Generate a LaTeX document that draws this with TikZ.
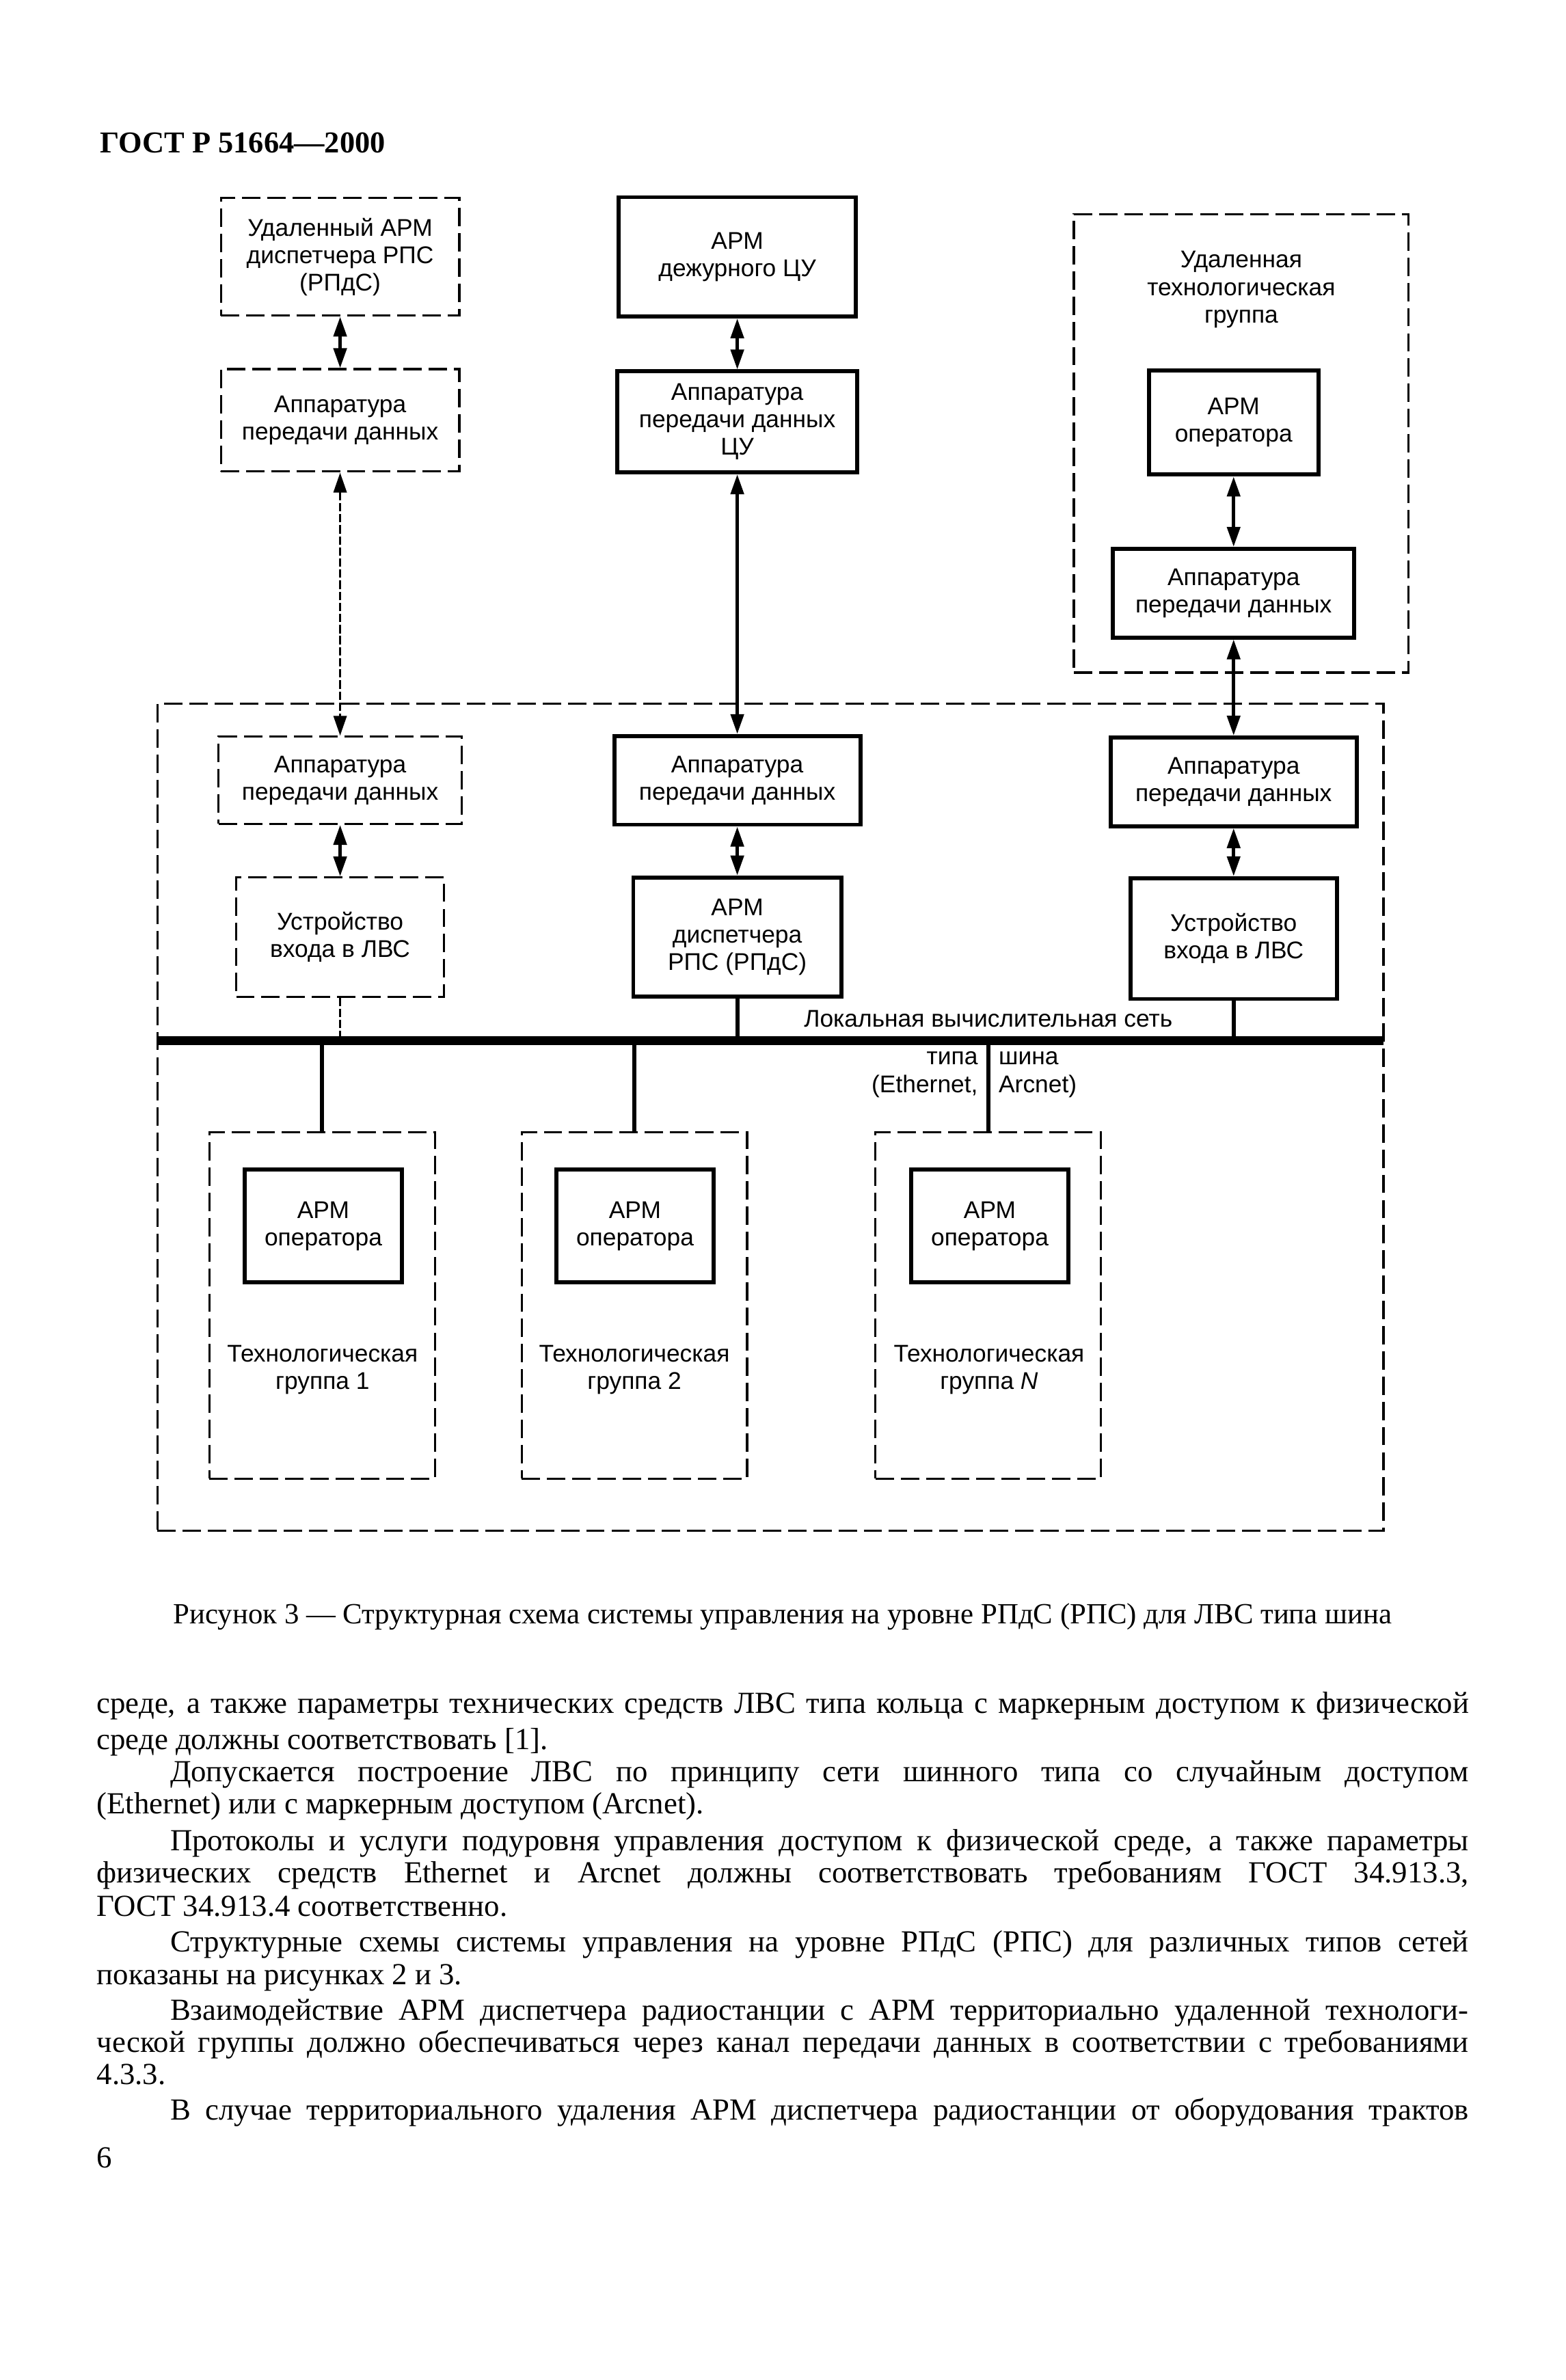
\documentclass[tikz,border=0pt]{standalone}
\usepackage{fontspec}
\setmainfont{Liberation Serif}
\newfontfamily\sansfont{Liberation Sans}
\usetikzlibrary{arrows.meta}

\tikzset{
	solidbox/.style 2 args={draw, line width=1.5pt, inner sep=0pt, align=center, minimum width=#1*0.2mm, minimum height=#2*0.2mm, font=\sansfont\fontsize{9}{10.2}\selectfont},
	dashbox/.style 2 args={solidbox={#1}{#2}, line width=0.8pt, dash pattern=on 2.4mm off 0.9mm},
	lbl/.style={inner sep=0pt, align=center, font=\sansfont\fontsize{9}{10.2}\selectfont},
	link/.style={{Triangle[length=2.6mm,width=1.7mm]}-{Triangle[length=2.6mm,width=1.7mm]}, line width=1.2pt},
	dlink/.style={link, line width=0.9pt, dash pattern=on 1.1mm off 0.35mm},
	drop/.style={line width=1.5pt},
	thinlink/.style={line width=0.9pt, dash pattern=on 1.1mm off 0.35mm},
	txt/.style={anchor=base west, inner sep=0pt, font=\fontsize{11.4}{13}\selectfont},
}
\newcommand\fullline[1]{\hbox to 17.95cm{#1}}
\newcommand\indentline[1]{\hbox to 17.95cm{\kern9.6mm #1}}

\begin{document}
\begin{tikzpicture}[x=0.2mm, y=-0.2mm]
	\path[use as bounding box, fill=white] (0,0) rectangle (1024,1557);
	\node[anchor=base west, inner sep=0pt, font=\bfseries\fontsize{11.3}{13}\selectfont] (gost) at (65,100) {ГОСТ Р 51664—2000};

	\node[dashbox={156}{77}] (L1) at (222.5,168) {Удаленный АРМ\\диспетчера РПС\\(РПдС)};
	\node[dashbox={156}{67}] (L2) at (222.5,275) {Аппаратура\\передачи данных};
	\node[dashbox={159}{57}] (L3) at (222.5,510.5) {Аппаратура\\передачи данных};
	\node[dashbox={136}{78}] (L4) at (222.5,613) {Устройство\\входа в ЛВС};

	\node[solidbox={155}{78}] (M1) at (482.3,168) {АРМ\\дежурного ЦУ};
	\node[solidbox={157}{66}] (M2) at (482.3,276) {Аппаратура\\передачи данных\\ЦУ};
	\node[solidbox={161}{58}] (M3) at (482.3,510.5) {Аппаратура\\передачи данных};
	\node[solidbox={136}{78}] (M4) at (482.3,613) {АРМ\\диспетчера\\РПС (РПдС)};

	\node[dashbox={219}{300}] (R0) at (812,290) {};
	\node[lbl] (R0t) at (812,189.4) {Удаленная\\технологическая\\группа};
	\node[solidbox={111}{68}] (R1) at (807,276.5) {АРМ\\оператора};
	\node[solidbox={158}{58}] (R2) at (807,388) {Аппаратура\\передачи данных};
	\node[solidbox={161}{58}] (R3) at (807,511.5) {Аппаратура\\передачи данных};
	\node[solidbox={135}{79}] (R4) at (807,614) {Устройство\\входа в ЛВС};

	\draw[link] (L1.south) -- (L2.north);
	\draw[dlink] (L2.south) -- (L3.north);
	\draw[link] (L3.south) -- (L4.north);
	\draw[link] (M1.south) -- (M2.north);
	\draw[link] (M2.south) -- (M3.north);
	\draw[link] (M3.south) -- (M4.north);
	\draw[link] (R1.south) -- (R2.north);
	\draw[link] (R2.south) -- (R3.north);
	\draw[link] (R3.south) -- (R4.north);

	\node[dashbox={802}{541}] (lan) at (504,731) {};
	\coordinate (busL) at (103,681);
	\coordinate (busR) at (905,681);
	\draw[line width=3.3pt] (busL) -- (busR);
	\node[lbl] (lant) at (646.5,666.5) {Локальная вычислительная сеть};
	\node[lbl, anchor=east, align=right] (tipa) at (640,703) {типа\\(Ethernet,};
	\node[lbl, anchor=west, align=left] (shina) at (653,703) {шина\\Arcnet)};
	\draw[thinlink] (L4.south) -- (L4.south |- busL);
	\draw[drop] (M4.south) -- (M4.south |- busL);
	\draw[drop] (R4.south) -- (R4.south |- busL);

	\node[dashbox={147.5}{226.5}] (g1) at (210.7,854) {};
	\node[solidbox={103}{74}] (a1) at (211.5,802) {АРМ\\оператора};
	\node[lbl] (t1) at (211,896) {Технологическая\\группа 1};
	\node[dashbox={147.5}{226.5}] (g2) at (415,854) {};
	\node[solidbox={103}{74}] (a2) at (415.4,802) {АРМ\\оператора};
	\node[lbl] (t2) at (415,896) {Технологическая\\группа 2};
	\node[dashbox={147.5}{226.5}] (g3) at (646.5,854) {};
	\node[solidbox={103}{74}] (a3) at (647.5,802) {АРМ\\оператора};
	\node[lbl] (t3) at (647,896) {Технологическая\\группа \textit{N}};
	\draw[drop] (g1.north) -- (g1.north |- busL);
	\draw[drop] (g2.north) -- (g2.north |- busL);
	\draw[drop] (g3.north) -- (g3.north |- busL);

	\node[txt, anchor=base, font=\fontsize{10.9}{13}\selectfont] (cap) at (512,1062) {Рисунок 3 — Структурная схема системы управления на уровне РПдС (РПС) для ЛВС типа шина};

	\node[txt] (p1) at (63,1121) {\fullline{среде, а также параметры технических средств ЛВС типа кольца с маркерным доступом к физической}};
	\node[txt] (p2) at (63,1144.5) {среде должны соответствовать [1].};
	\node[txt] (p3) at (63,1165.5) {\indentline{Допускается построение ЛВС по принципу сети шинного типа со случайным доступом}};
	\node[txt] (p4) at (63,1186.5) {(Ethernet) или с маркерным доступом (Arcnet).};
	\node[txt] (p5) at (63,1210.5) {\indentline{Протоколы и услуги подуровня управления доступом к физической среде, а также параметры}};
	\node[txt] (p6) at (63,1231.5) {\fullline{физических средств Ethernet и Arcnet должны соответствовать требованиям ГОСТ 34.913.3,}};
	\node[txt] (p7) at (63,1253.5) {ГОСТ 34.913.4 соответственно.};
	\node[txt] (p8) at (63,1277) {\indentline{Структурные схемы системы управления на уровне РПдС (РПС) для различных типов сетей}};
	\node[txt] (p9) at (63,1298.5) {показаны на рисунках 2 и 3.};
	\node[txt] (p10) at (63,1321.5) {\indentline{Взаимодействие АРМ диспетчера радиостанции с АРМ территориально удаленной технологи-}};
	\node[txt] (p11) at (63,1342.5) {\fullline{ческой группы должно обеспечиваться через канал передачи данных в соответствии с требованиями}};
	\node[txt] (p12) at (63,1363.5) {4.3.3.};
	\node[txt] (p13) at (63,1387) {\indentline{В случае территориального удаления АРМ диспетчера радиостанции от оборудования трактов}};
	\node[txt] (pg) at (63,1418) {6};
\end{tikzpicture}
\end{document}
